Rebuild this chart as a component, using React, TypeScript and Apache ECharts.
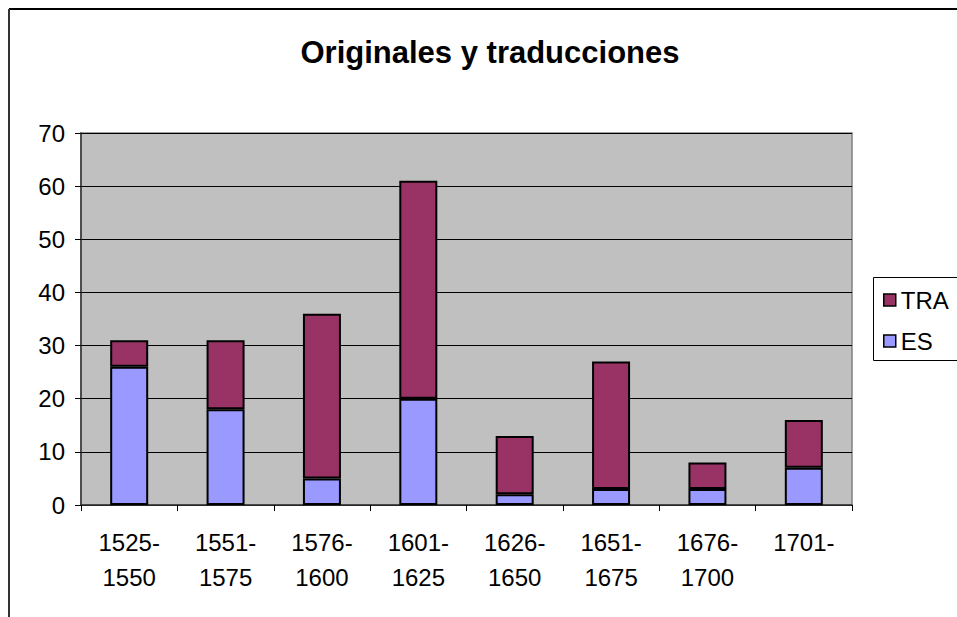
import React, { useEffect, useRef } from "react";
import * as echarts from "echarts";

const categories = ["1525-1550", "1551-1575", "1576-1600", "1601-1625", "1626-1650", "1651-1675", "1676-1700", "1701-"];
const esValues = [26, 18, 5, 20, 2, 3, 3, 7];
const traValues = [5, 13, 31, 41, 11, 24, 5, 9];
const yTicks = { min: 0, max: 70, interval: 10 };
const titleText = "Originales y traducciones";

const FONT = "'Liberation Sans', Arial, sans-serif";

export default function App() {
  const ref = useRef<HTMLDivElement>(null);
  useEffect(() => {
    if (!ref.current) return;
    const chart = echarts.init(ref.current, null, { renderer: "svg" });
    chart.setOption({
      animation: false,
      backgroundColor: "#ffffff",
      title: {
        text: titleText,
        left: 490,
        top: 35,
        padding: 0,
        textAlign: "center",
        textStyle: { fontFamily: FONT, fontSize: 31, fontWeight: "bold", color: "#000", lineHeight: 34 },
      },
      graphic: [
        { type: "line", z: 0, shape: { x1: 9, y1: 9, x2: 957, y2: 9 }, style: { stroke: "#000", lineWidth: 2 } },
        { type: "line", z: 0, shape: { x1: 9, y1: 9, x2: 9, y2: 617 }, style: { stroke: "#333", lineWidth: 2 } },
        { type: "rect", z: 1, shape: { x: 873.5, y: 277.5, width: 120, height: 83 }, style: { fill: "#fff", stroke: "#000", lineWidth: 1 } },
      ],
      legend: {
        data: ["TRA", "ES"],
        orient: "vertical",
        left: 883,
        top: 288,
        padding: 0,
        itemWidth: 12,
        itemHeight: 12,
        itemGap: 17,
        icon: "rect",
        itemStyle: { borderColor: "#000", borderWidth: 1.5 },
        textStyle: { fontFamily: FONT, fontSize: 24, color: "#000", lineHeight: 24 },
        z: 5,
      },
      grid: {
        left: 81,
        top: 133,
        width: 771,
        height: 372,
        show: true,
        backgroundColor: "#C0C0C0",
        borderColor: "#808080",
        borderWidth: 1.5,
      },
      xAxis: {
        type: "category",
        data: categories,
        boundaryGap: true,
        axisLine: { lineStyle: { color: "#333", width: 1.5 } },
        axisTick: { show: true, length: 6, lineStyle: { color: "#000" } },
        axisLabel: {
          interval: 0,
          margin: 20,
          fontFamily: FONT,
          fontSize: 24,
          color: "#000",
          lineHeight: 35,
          formatter: (v: string) => v.replace("-", "-\n"),
        },
      },
      yAxis: {
        type: "value",
        min: yTicks.min,
        max: yTicks.max,
        interval: yTicks.interval,
        axisLine: { show: true, lineStyle: { color: "#333", width: 1.5 } },
        axisTick: { show: true, length: 6, lineStyle: { color: "#000" } },
        splitLine: { lineStyle: { color: "#000", width: 1 } },
        axisLabel: { margin: 16, fontFamily: FONT, fontSize: 24, color: "#000" },
      },
      series: [
        {
          name: "ES",
          type: "bar",
          stack: "total",
          barWidth: 38,
          data: esValues,
          itemStyle: { color: "#9999FF", borderColor: "#000", borderWidth: 2 },
        },
        {
          name: "TRA",
          type: "bar",
          stack: "total",
          barWidth: 38,
          data: traValues,
          itemStyle: { color: "#993366", borderColor: "#000", borderWidth: 2 },
        },
      ],
    });
    return () => chart.dispose();
  }, []);
  return <div ref={ref} style={{ position: "fixed", left: 0, top: 0, width: 957, height: 617 }} />;
}
